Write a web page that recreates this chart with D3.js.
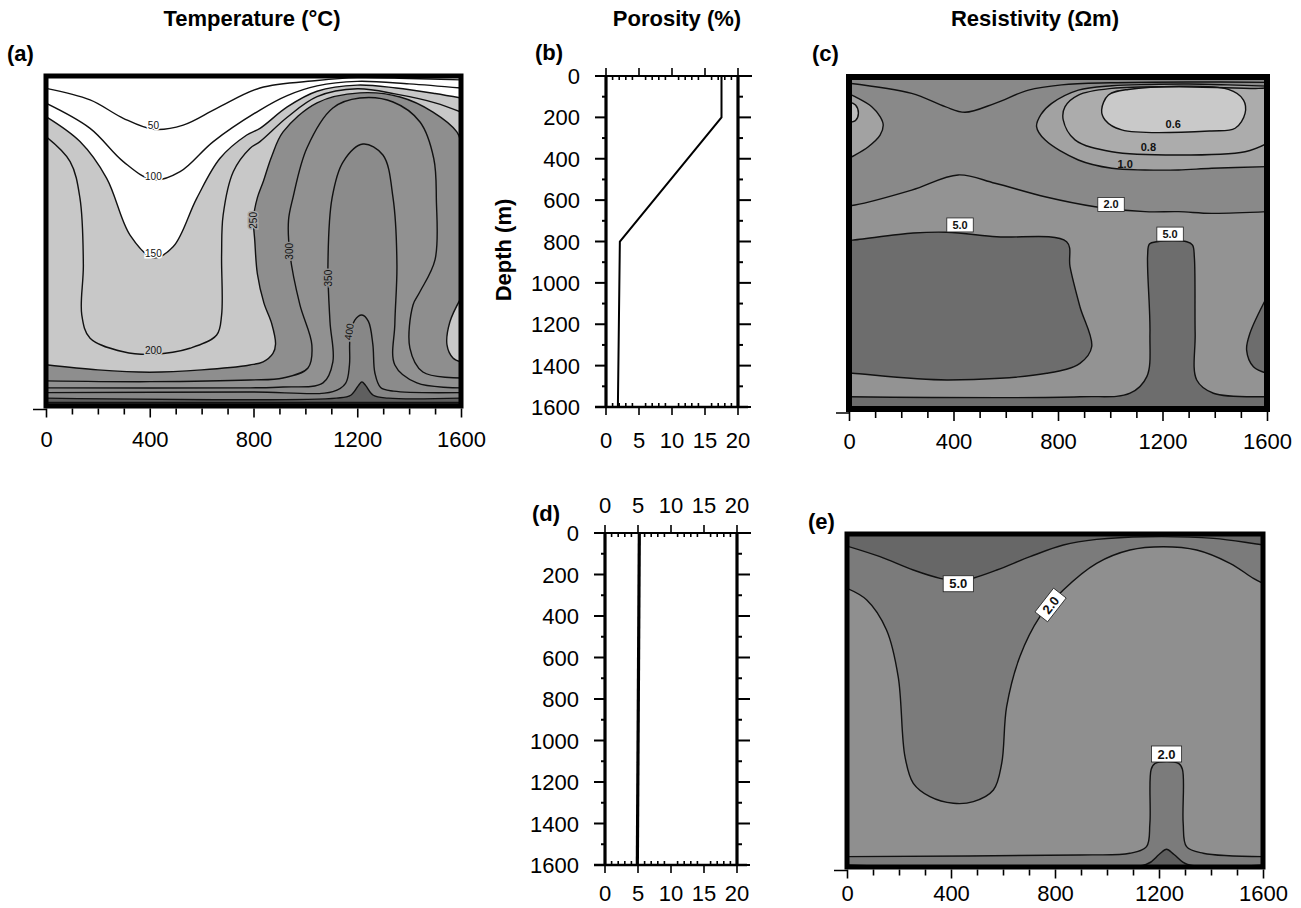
<!DOCTYPE html>
<html>
<head>
<meta charset="utf-8">
<script src="https://cdn.jsdelivr.net/npm/d3@7"></script>
<style>
  body { margin: 0; background: #fff; }
  svg { display: block; font-family: "Liberation Sans", Arial, Helvetica, sans-serif; }
</style>
</head>
<body>
<svg id="fig" width="1301" height="908"></svg>
<script>
// ---------- tick labels ----------
const distanceTicks = [0, 400, 800, 1200, 1600];
const depthTicks = [0, 200, 400, 600, 800, 1000, 1200, 1400, 1600];
const porosityTicks = [0, 5, 10, 15, 20];

// ---------- (b) / (d) porosity profiles ----------
const depthB = [0, 200, 800, 1600];
const porosityB = [17.5, 17.5, 2.1, 1.8];
const depthD = [0, 1600];
const porosityD = [5.2, 4.9];

// ---------- (a) temperature isotherms, [distance m, depth m] ----------
const T50 = [[0,60],[170,116],[298,205],[414,258],[529,238],[658,157],[825,58],[1045,22],[1200,8],[1400,12],[1600,19]];
const T100 = [[0,132],[170,254],[298,415],[414,504],[517,464],[645,318],[825,165],[930,95],[1045,48],[1200,26],[1400,38],[1600,58]];
const T150 = [[0,197],[131,318],[234,496],[324,771],[414,881],[491,827],[581,593],[671,399],[774,286],[825,254],[930,150],[1045,74],[1200,44],[1350,58],[1500,85],[1600,107]];
const T200 = [[0,294],[93,415],[131,593],[144,916],[138,1159],[170,1272],[298,1337],[414,1349],[555,1320],[658,1256],[677,1159],[677,868],[683,674],[722,464],[786,351],[825,318],[930,200],[1045,100],[1200,62],[1350,88],[1500,130],[1600,175]];
const T250 = [[0,1400],[200,1425],[400,1436],[600,1425],[786,1401],[837,1386],[875,1345],[885,1300],[870,1200],[840,1100],[815,960],[805,800],[800,690],[815,590],[837,514],[870,390],[914,271],[1045,130],[1210,82],[1365,102],[1492,175],[1584,271],[1600,320]];
const T250b = [[1600,1076],[1557,1193],[1546,1304],[1569,1367],[1600,1386]];
const T300 = [[0,1478],[400,1482],[786,1474],[914,1464],[1010,1416],[1025,1304],[979,1110],[941,868],[935,700],[952,591],[1006,349],[1106,155],[1210,107],[1338,126],[1442,223],[1495,400],[1505,600],[1500,890],[1440,1050],[1415,1110],[1403,1319],[1453,1435],[1600,1464]];
const T350 = [[0,1512],[786,1512],[914,1508],[1068,1488],[1106,1386],[1095,1193],[1087,916],[1103,591],[1145,417],[1222,330],[1299,383],[1338,591],[1353,916],[1345,1200],[1345,1401],[1430,1488],[1600,1512]];
const T400 = [[0,1535],[786,1532],[1106,1530],[1155,1490],[1170,1400],[1172,1270],[1190,1185],[1218,1159],[1243,1190],[1260,1300],[1268,1440],[1290,1510],[1340,1528],[1600,1535]];
const T450 = [[0,1562],[1120,1562],[1175,1548],[1205,1500],[1218,1483],[1232,1500],[1262,1548],[1320,1562],[1600,1562]];
const T500 = [[0,1583],[1600,1583]];

// ---------- (c) resistivity, porosity of (b) ----------
const C06 = [[967,159],[993,87],[1069,60],[1452,60],[1510,111],[1516,175],[1478,247],[1388,260],[1044,255],[980,207]];
const C08 = [[1600,52],[1567,55],[1261,47],[1006,55],[878,87],[827,143],[820,207],[865,303],[1006,360],[1261,376],[1516,360],[1600,320]];
const C10 = [[1600,432],[1388,440],[1261,448],[1133,448],[1006,440],[878,400],[750,303],[718,239],[735,180],[776,127],[878,63],[1006,42],[1150,36],[1300,34],[1450,38],[1600,44]];
const C10top = [[0,30],[240,79],[368,143],[444,170],[559,127],[687,63],[814,38],[1000,28],[1300,24],[1600,26]];
const CLens = [[0,80],[23,95],[87,143],[119,191],[131,231],[119,280],[74,336],[23,376],[0,390]];
const CLensIn = [[0,120],[25,135],[36,175],[25,210],[0,220]];
const C20 = [[0,620],[23,617],[240,545],[418,472],[559,512],[750,577],[942,625],[1133,649],[1261,649],[1388,657],[1600,649]];
const C50a = [[0,786],[14,786],[246,752],[374,748],[565,770],[833,794],[846,914],[884,1107],[929,1300],[884,1380],[757,1428],[374,1460],[14,1428],[0,1428]];
const C50b = [[0,1541],[884,1541],[1076,1524],[1140,1444],[1152,1234],[1143,860],[1150,805],[1178,794],[1293,794],[1315,810],[1322,870],[1325,1235],[1331,1460],[1395,1524],[1586,1541],[1600,1541]];
const C50c = [[1600,1059],[1535,1234],[1522,1316],[1548,1396],[1600,1428]];

// ---------- (e) resistivity, porosity of (d) ----------
const E50 = [[0,58],[127,109],[255,173],[358,213],[428,225],[460,221],[576,173],[704,109],[832,53],[960,26],[1152,13],[1410,21],[1600,53]];
const E20 = [[0,261],[76,317],[152,461],[197,686],[223,1070],[255,1198],[319,1262],[409,1294],[486,1286],[563,1230],[595,1102],[614,830],[665,589],[742,397],[832,269],[960,141],[1088,77],[1216,61],[1345,77],[1473,141],[1563,213],[1600,237]];
const E20b = [[0,1550],[896,1542],[1088,1534],[1152,1502],[1165,1390],[1170,1130],[1185,1102],[1275,1102],[1290,1130],[1293,1390],[1306,1502],[1370,1534],[1600,1550]];
const E50b = [[0,1590],[1150,1588],[1200,1540],[1229,1515],[1258,1540],[1310,1588],[1600,1590]];

const svg = d3.select('#fig');

// ---------- contour panel helper ----------
function contourPanel(key, box, base, fills, lines, labels, frameW) {
  const x = d3.scaleLinear().domain([0, 1600]).range([box.x0, box.x1]);
  const y = d3.scaleLinear().domain([0, 1600]).range([box.y0, box.y1]);
  const g = svg.append('g');

  g.append('clipPath').attr('id', 'clip-' + key)
    .append('rect')
    .attr('x', box.x0).attr('y', box.y0)
    .attr('width', box.x1 - box.x0).attr('height', box.y1 - box.y0);
  const plot = g.append('g').attr('clip-path', `url(#clip-${key})`);

  plot.append('rect')
    .attr('x', box.x0).attr('y', box.y0)
    .attr('width', box.x1 - box.x0).attr('height', box.y1 - box.y0)
    .attr('fill', base);

  const open = d3.line().x(d => x(d[0])).y(d => y(d[1])).curve(d3.curveCatmullRom.alpha(0.5));
  const ring = d3.line().x(d => x(d[0])).y(d => y(d[1])).curve(d3.curveCatmullRomClosed.alpha(0.5));
  const corners = { bottom: [[1600, 1600], [0, 1600]], top: [[1600, 0], [0, 0]], edge: [] };

  const areaPath = f => f.close === 'self'
    ? ring(f.pts)
    : open(f.pts) + corners[f.close].map(p => `L${x(p[0])},${y(p[1])}`).join('') + 'Z';

  plot.selectAll('path.band').data(fills).join('path')
    .attr('class', 'band')
    .attr('d', areaPath)
    .attr('fill', f => f.fill);

  plot.selectAll('path.iso').data(lines).join('path')
    .attr('class', 'iso')
    .attr('d', l => l.closed ? ring(l.pts) : open(l.pts))
    .attr('fill', 'none')
    .attr('stroke', '#111')
    .attr('stroke-width', 1.4);

  labels.forEach(l => {
    const lg = g.append('g')
      .attr('transform', `translate(${x(l.x)},${y(l.d)}) rotate(${l.rot || 0})`);
    if (l.boxed) {
      const w = l.t.length * l.size * 0.62 + 6, h = l.size + 3;
      lg.append('rect')
        .attr('x', -w / 2).attr('y', -h / 2).attr('width', w).attr('height', h)
        .attr('fill', '#fff').attr('stroke', '#222').attr('stroke-width', 0.8);
    }
    lg.append('text')
      .attr('text-anchor', 'middle')
      .attr('dy', '0.36em')
      .attr('font-size', l.size)
      .attr('font-weight', l.bold ? 'bold' : 'normal')
      .attr('fill', '#111')
      .attr('stroke', l.halo || 'none')
      .attr('stroke-width', l.halo ? 3 : 0)
      .attr('paint-order', 'stroke')
      .text(l.t);
  });

  // heavy frame
  g.append('rect')
    .attr('x', box.x0).attr('y', box.y0)
    .attr('width', box.x1 - box.x0).attr('height', box.y1 - box.y0)
    .attr('fill', 'none').attr('stroke', '#000').attr('stroke-width', frameW);

  return { x, y, g };
}

function distanceAxis(p, box, frameW, baseline) {
  const ay = box.y1 + frameW / 2;
  const axis = d3.axisBottom(p.x)
    .tickValues(d3.range(0, 1601, 100))
    .tickSize(7)
    .tickFormat(d => distanceTicks.includes(d) ? d : '');
  const a = p.g.append('g').attr('transform', `translate(0,${ay})`).call(axis);
  a.attr('font-family', null).attr('font-size', 22);
  a.select('.domain').remove();
  a.selectAll('.tick line')
    .attr('stroke', '#000')
    .attr('stroke-width', 1.6)
    .attr('y2', d => distanceTicks.includes(d) ? 9 : 6);
  a.selectAll('.tick text').attr('y', baseline - ay).attr('dy', null).attr('fill', '#000');
  // little mark at the lower-left corner
  p.g.append('line')
    .attr('x1', box.x0 - 13).attr('x2', box.x0)
    .attr('y1', ay + 1).attr('y2', ay + 1)
    .attr('stroke', '#000').attr('stroke-width', 1.5);
}

// ---------- porosity panel helper ----------
function porosityPanel(box, depths, poro, lineW, topBaseline, bottomBaseline) {
  const x = d3.scaleLinear().domain([0, 20]).range([box.x0, box.x1]);
  const y = d3.scaleLinear().domain([0, 1600]).range([box.y0, box.y1]);
  const g = svg.append('g').attr('stroke', '#000');

  g.append('line').attr('x1', box.x0 - 9).attr('x2', box.x1 + 14)
    .attr('y1', y(0)).attr('y2', y(0)).attr('stroke-width', 1.8);
  g.append('line').attr('x1', box.x0 - 11).attr('x2', box.x1 + 10)
    .attr('y1', y(1600)).attr('y2', y(1600)).attr('stroke-width', 2.4);
  [box.x0, box.x1].forEach(xx => g.append('line')
    .attr('x1', xx).attr('x2', xx).attr('y1', y(0)).attr('y2', y(1600))
    .attr('stroke-width', 3.2));

  const dt = d3.range(0, 1601, 100);
  g.selectAll('line.dl').data(dt).join('line').attr('class', 'dl')
    .attr('x1', box.x0).attr('x2', d => box.x0 - (d % 200 === 0 ? 11 : 4))
    .attr('y1', d => y(d)).attr('y2', d => y(d)).attr('stroke-width', 2);
  g.selectAll('line.dr').data(dt).join('line').attr('class', 'dr')
    .attr('x1', box.x1).attr('x2', d => box.x1 + (d % 200 === 0 ? 13 : 5))
    .attr('y1', d => y(d)).attr('y2', d => y(d)).attr('stroke-width', 2);

  const pt = d3.range(0, 21, 1);
  g.selectAll('line.pt').data(pt).join('line').attr('class', 'pt')
    .attr('x1', d => x(d)).attr('x2', d => x(d))
    .attr('y1', y(0)).attr('y2', d => y(0) + (d % 5 === 0 ? -8 : 4))
    .attr('stroke-width', 1.6);
  g.selectAll('line.pb').data(pt).join('line').attr('class', 'pb')
    .attr('x1', d => x(d)).attr('x2', d => x(d))
    .attr('y1', y(1600)).attr('y2', d => y(1600) + (d % 5 === 0 ? 8 : -4))
    .attr('stroke-width', 1.6);

  const t = svg.append('g').attr('font-size', 22).attr('fill', '#000');
  t.selectAll('text.dep').data(depthTicks).join('text').attr('class', 'dep')
    .attr('x', box.x0 - 26).attr('y', d => y(d) + 8)
    .attr('text-anchor', 'end').text(d => d);
  if (bottomBaseline) {
    t.selectAll('text.pb').data(porosityTicks).join('text').attr('class', 'pb')
      .attr('x', d => x(d)).attr('y', bottomBaseline)
      .attr('text-anchor', 'middle').text(d => d);
  }
  if (topBaseline) {
    t.selectAll('text.pt').data(porosityTicks).join('text').attr('class', 'pt')
      .attr('x', d => x(d)).attr('y', topBaseline)
      .attr('text-anchor', 'middle').text(d => d);
  }

  g.append('path')
    .datum(depths.map((d, i) => [poro[i], d]))
    .attr('d', d3.line().x(d => x(d[0])).y(d => y(d[1])))
    .attr('fill', 'none').attr('stroke-width', lineW);
}

// ---------- (a) temperature ----------
const boxA = { x0: 46, x1: 461, y0: 76, y1: 406 };
const pa = contourPanel('a', boxA, '#c8c8c8',
  [
    { pts: T150, close: 'top', fill: '#ffffff' },
    { pts: T250, close: 'bottom', fill: '#8e8e8e' },
    { pts: T250b, close: 'edge', fill: '#c8c8c8' },
    { pts: T300, close: 'bottom', fill: '#919191' },
    { pts: T350, close: 'bottom', fill: '#8b8b8b' },
    { pts: T400, close: 'bottom', fill: '#878787' },
    { pts: T450, close: 'bottom', fill: '#5f5f5f' },
    { pts: T500, close: 'bottom', fill: '#3c3c3c' }
  ],
  [T50, T100, T150, T200, T250, T250b, T300, T350, T400, T450, T500].map(p => ({ pts: p })),
  [
    { t: '50', x: 414, d: 240, size: 10, halo: '#fff' },
    { t: '100', x: 414, d: 486, size: 10, halo: '#fff' },
    { t: '150', x: 414, d: 862, size: 10, halo: '#fff' },
    { t: '200', x: 414, d: 1330, size: 10, halo: '#c8c8c8' },
    { t: '250', x: 800, d: 700, size: 10, rot: -90, halo: '#a8a8a8' },
    { t: '300', x: 938, d: 850, size: 10, rot: -90, halo: '#8e8e8e' },
    { t: '350', x: 1088, d: 980, size: 10, rot: -90, halo: '#8e8e8e' },
    { t: '400', x: 1168, d: 1240, size: 10, rot: -82, halo: '#8b8b8b' }
  ], 5);
distanceAxis(pa, boxA, 5, 447);

// ---------- (c) resistivity ----------
const boxC = { x0: 849, x1: 1267, y0: 77, y1: 409 };
const pc = contourPanel('c', boxC, '#898989',
  [
    { pts: C20, close: 'bottom', fill: '#939393' },
    { pts: C50a, close: 'edge', fill: '#6d6d6d' },
    { pts: C50b, close: 'bottom', fill: '#6d6d6d' },
    { pts: C50c, close: 'edge', fill: '#6d6d6d' },
    { pts: C10, close: 'edge', fill: '#a2a2a2' },
    { pts: C08, close: 'edge', fill: '#acacac' },
    { pts: C06, close: 'self', fill: '#c9c9c9' },
    { pts: CLens, close: 'edge', fill: '#a2a2a2' },
    { pts: CLensIn, close: 'edge', fill: '#bdbdbd' }
  ],
  [
    { pts: C10top }, { pts: C10 }, { pts: C08 }, { pts: C06, closed: true },
    { pts: CLens }, { pts: CLensIn }, { pts: C20 },
    { pts: C50a }, { pts: C50b }, { pts: C50c }
  ],
  [
    { t: '0.6', x: 1241, d: 228, size: 11, bold: true },
    { t: '0.8', x: 1146, d: 336, size: 11, bold: true },
    { t: '1.0', x: 1057, d: 421, size: 11, bold: true },
    { t: '2.0', x: 1003, d: 614, size: 11, bold: true, boxed: true },
    { t: '5.0', x: 425, d: 713, size: 11, bold: true, boxed: true },
    { t: '5.0', x: 1229, d: 757, size: 11, bold: true, boxed: true }
  ], 6);
distanceAxis(pc, boxC, 6, 449);

// ---------- (e) resistivity ----------
const boxE = { x0: 847, x1: 1263, y0: 534, y1: 867 };
const pe = contourPanel('e', boxE, '#8f8f8f',
  [
    { pts: E20, close: 'top', fill: '#7b7b7b' },
    { pts: E50, close: 'top', fill: '#676767' },
    { pts: E20b, close: 'bottom', fill: '#7b7b7b' },
    { pts: E50b, close: 'bottom', fill: '#5e5e5e' }
  ],
  [E50, E20, E20b, E50b].map(p => ({ pts: p })),
  [
    { t: '5.0', x: 428, d: 239, size: 13, bold: true, boxed: true },
    { t: '2.0', x: 783, d: 341, size: 13, bold: true, boxed: true, rot: -52 },
    { t: '2.0', x: 1229, d: 1057, size: 13, bold: true, boxed: true }
  ], 5);
distanceAxis(pe, boxE, 5, 901);

// ---------- (b) and (d) porosity ----------
porosityPanel({ x0: 606, x1: 738, y0: 76, y1: 407 }, depthB, porosityB, 2, null, 448);
porosityPanel({ x0: 605, x1: 737, y0: 533, y1: 865 }, depthD, porosityD, 3.2, 513, 901);

// ---------- titles and panel letters ----------
const titles = svg.append('g').attr('font-size', 22).attr('font-weight', 'bold').attr('fill', '#000');
titles.append('text').attr('x', 252).attr('y', 26).attr('text-anchor', 'middle').text('Temperature (°C)');
titles.append('text').attr('x', 677).attr('y', 26).attr('text-anchor', 'middle').text('Porosity (%)');
titles.append('text').attr('x', 1035).attr('y', 26).attr('text-anchor', 'middle').text('Resistivity (Ωm)');
titles.append('text').attr('transform', 'translate(511,250) rotate(-90)').attr('text-anchor', 'middle').text('Depth (m)');
[['(a)', 7, 61], ['(b)', 535, 60], ['(c)', 812, 61], ['(d)', 532, 521], ['(e)', 808, 529]]
  .forEach(([t, x, y]) => titles.append('text').attr('x', x).attr('y', y).text(t));
</script>
</body>
</html>
